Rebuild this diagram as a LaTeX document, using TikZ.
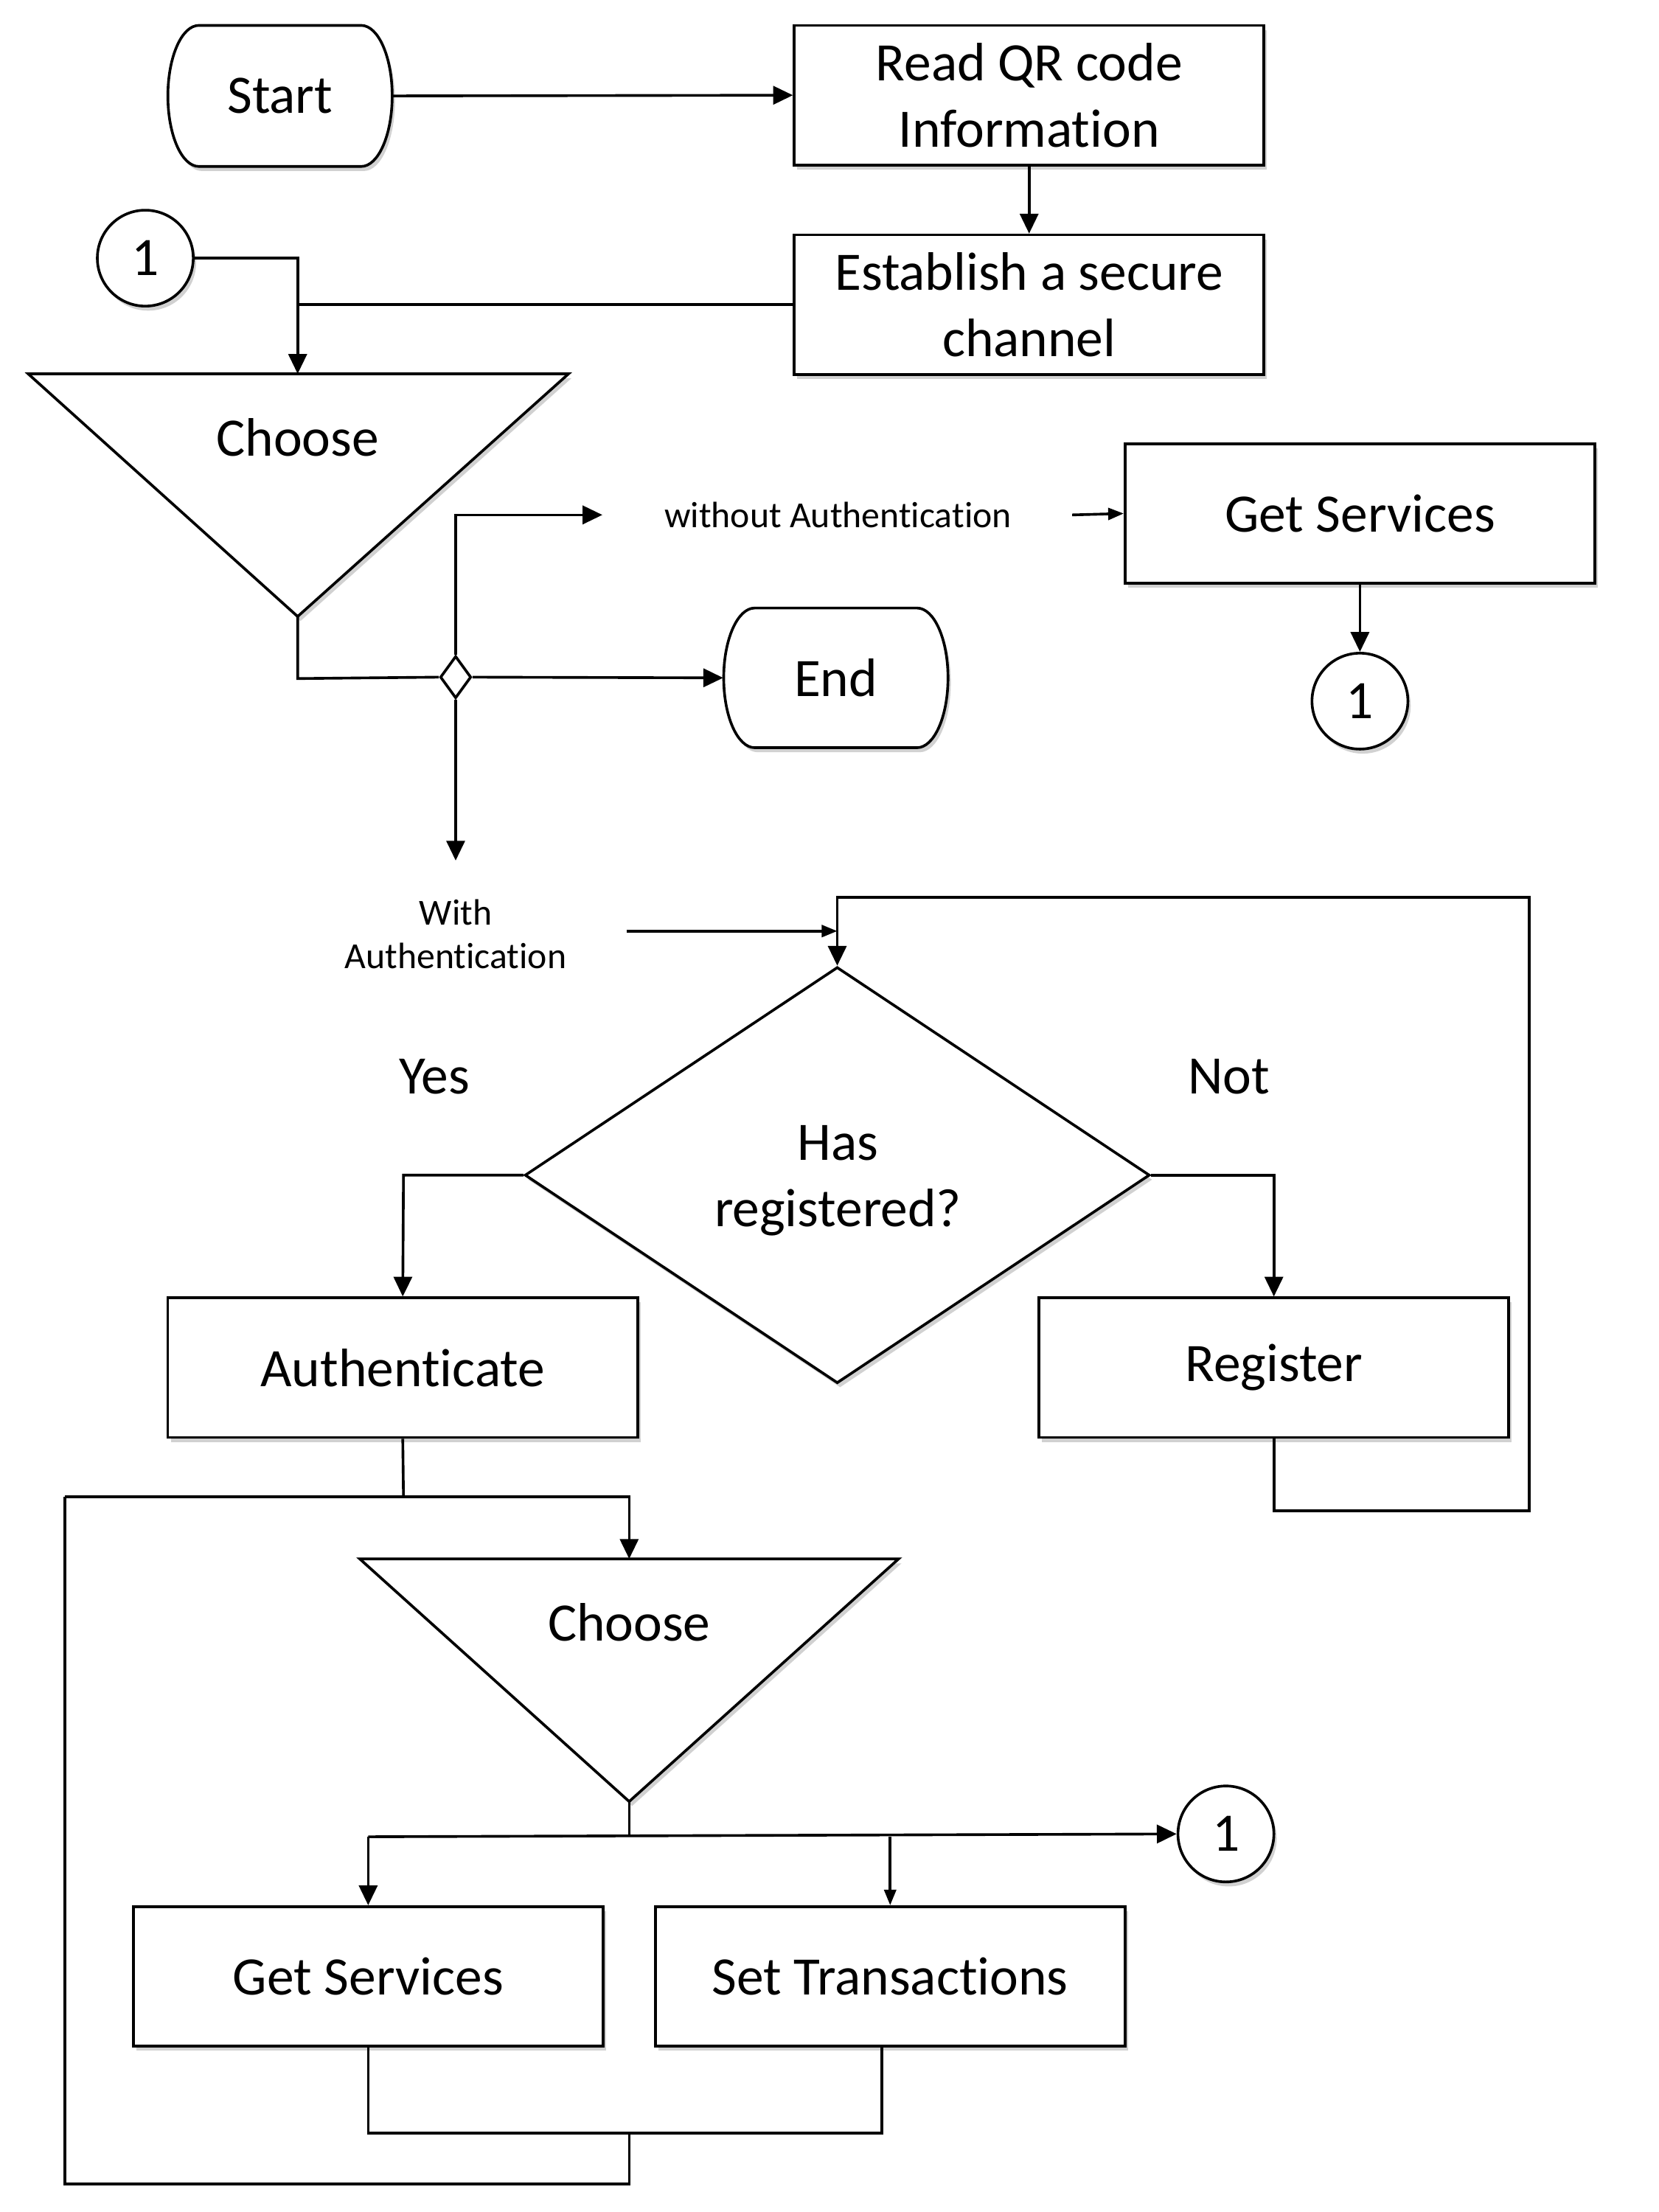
\documentclass[tikz,border=0pt]{standalone}
\usepackage{fontspec}
\setmainfont{Carlito}[Ligatures={NoCommon}]
\usetikzlibrary{arrows.meta,shapes.geometric,shadows}
\begin{document}
\begin{tikzpicture}[x=0.5pt,y=-0.5pt,
  every node/.style={font=\fontsize{19.2}{23.5}\selectfont},
  shad/.style={drop shadow={shadow xshift=1pt,shadow yshift=-1.6pt,fill=black,opacity=0.18}},
  wire/.style={line width=0.95pt},
  box/.style={draw, wire, fill=white, shad, minimum width=166.5pt, minimum height=49.5pt, align=center, inner sep=0pt},
  conn/.style={draw, wire, circle, fill=white, shad, minimum size=34pt, inner sep=0pt},
  arr/.style={wire, -{Triangle[length=7pt,width=6.5pt]}},
  sarr/.style={wire, -{Triangle[length=5.5pt,width=4.2pt]}},
  smalltxt/.style={font=\fontsize{13}{15.5}\selectfont, align=center},
]
\fill[white] (0,0) rectangle (1176,1568);
\useasboundingbox (0,0) rectangle (1176,1568);

% terminals
\draw[wire, fill=white, shad] (141,18) -- (256,18) .. controls (268.2,18) and (278,40.4) .. (278,68) .. controls (278,95.6) and (268.2,118) .. (256,118) -- (141,118) .. controls (128.8,118) and (119,95.6) .. (119,68) .. controls (119,40.4) and (128.8,18) .. (141,18) -- cycle;
\node[minimum width=79.5pt, minimum height=50pt, inner sep=0pt] (start) at (198.5,68) {Start};

\draw[wire, fill=white, shad] (535,431) -- (650,431) .. controls (662.2,431) and (672,453.2) .. (672,480.5) .. controls (672,507.8) and (662.2,530) .. (650,530) -- (535,530) .. controls (522.8,530) and (513,507.8) .. (513,480.5) .. controls (513,453.2) and (522.8,431) .. (535,431) -- cycle;
\node[minimum width=79.5pt, minimum height=49.5pt, inner sep=0pt] (endn) at (592.5,480.5) {End};

% boxes
\node[box] (rq) at (729.5,67.5) {Read QR code\\Information};
\node[box] (es) at (729.5,216) {Establish a secure\\channel};
\node[box] (gs1) at (964,364) {Get Services};
\node[box] (au) at (285.5,969.5) {Authenticate};
\node[box] (rg) at (903,969.5) {Register};
\node[box] (gs2) at (261,1401) {Get Services};
\node[box] (st) at (631,1401) {Set Transactions};

% connectors (circles)
\node[conn] (c1) at (103,183) {1};
\node[conn] (c2) at (964,497) {1};
\node[conn] (c3) at (869,1300) {1};

% choose triangles
\draw[wire, fill=white, shad] (20,265) -- (403,265) -- (211,437) -- cycle;
\coordinate (t1top) at (211,265);
\coordinate (t1tip) at (211,437);
\node (ch1) at (211,310) {Choose};

\draw[wire, fill=white, shad] (255,1105) -- (637,1105) -- (446,1277) -- cycle;
\coordinate (t2top) at (446,1105);
\coordinate (t2tip) at (446,1277);
\node (ch2) at (446,1150) {Choose};

% small junction diamond
\node[diamond, draw, wire, fill=white, minimum width=11pt, minimum height=15pt, inner sep=0pt] (jn) at (323,480) {};

% decision
\node[diamond, draw, wire, fill=white, shad, minimum width=221.5pt, minimum height=147.5pt, inner sep=0pt] (dec) at (593.5,833) {};
\node[align=center] (dectxt) at (594,837) {Has\\registered?};

% labels
\node[smalltxt] (wo) at (594,365) {without Authentication};
\node[smalltxt] (wi) at (323,662) {With\\Authentication};
\node (yes) at (308,763) {Yes};
\node (nott) at (871,763) {Not};

% free ends
\coordinate (woA) at (427,365);
\coordinate (woB) at (760,365);
\coordinate (wiA) at (323,610);
\coordinate (wiB) at (444,660);
\coordinate (wiC) at (593.5,660);
\coordinate (br) at (261,1302);
\coordinate (brs) at (631,1302);
\coordinate (stb) at (625,1450);

% flows
\draw[arr] (start.east) -- (rq.west);
\draw[arr] (rq.south) -- (es.north);
\draw[wire] (es.west) -- (211,216);
\draw[arr] (c1.east) -- (211,183) -- (t1top);
\draw[wire] (t1tip) -- (211,481) -- (jn.west);
\draw[arr] (jn.north) -- (323,365) -- (woA);
\draw[sarr] (woB) -- (gs1.west);
\draw[arr] (gs1.south) -- (c2.north);
\draw[arr] (jn.east) -- (endn.west);
\draw[arr] (jn.south) -- (wiA);
\draw[sarr] (wiB) -- (wiC);
\draw[arr] (rg.south) -- (903,1071) -- (1084,1071) -- (1084,636) -- (593.5,636) -- (dec.north);
\draw[arr] (dec.west) -- (286,833) -- (au.north);
\draw[arr] (dec.east) -- (903,833) -- (rg.north);
\draw[wire] (au.south) -- (286,1061);
\draw[arr] (46,1061) -- (446,1061) -- (t2top);
\draw[wire] (t2tip) -- (446,1302);
\draw[arr] (br) -- (c3.west);
\draw[arr] (br) -- (gs2.north);
\draw[sarr] (brs) -- (st.north);
\draw[wire] (gs2.south) -- (261,1512) -- (625,1512) -- (stb);
\draw[wire] (446,1512) -- (446,1548) -- (46,1548) -- (46,1061);
\end{tikzpicture}
\end{document}
